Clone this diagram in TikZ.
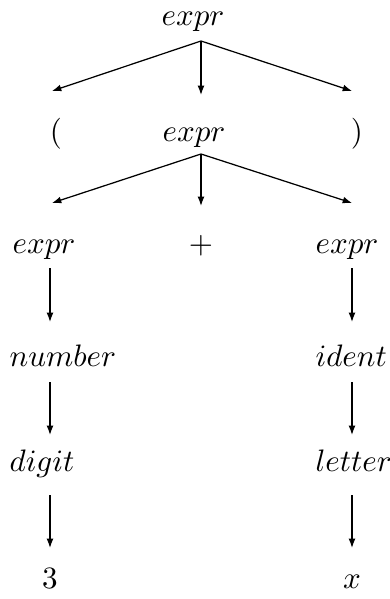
\documentclass[tikz,border=0pt]{standalone}
\usetikzlibrary{arrows.meta}
\begin{document}
\begin{tikzpicture}[x=0.322pt,y=-0.322pt,
  every node/.style={font=\fontsize{10}{12}\selectfont},
  lab/.style={inner sep=0pt,anchor=base west},
  labc/.style={inner sep=0pt,anchor=base},
  arr/.style={line width=0.4pt,-{Latex[length=3pt,width=2.2pt]}}]
\useasboundingbox (0,0) rectangle (390,599);
% row 0
\node[lab] (e0) at (161,26) {$expr$};
% row 1
\node[labc] (lp) at (56,141) {$($};
\node[lab] (e1) at (162,141) {$expr$};
\node[labc] (rp) at (357,141) {$)$};
% row 2
\node[lab] (e2l) at (12,253) {$expr$};
\node[labc] (plus) at (201,253) {$+$};
\node[lab] (e2r) at (315,253) {$expr$};
% row 3
\node[lab] (num) at (9,366) {$number$};
\node[lab] (idt) at (315,366) {$ident$};
% row 4
\node[lab] (dig) at (9,471) {$digit$};
\node[lab] (let) at (315,471) {$letter$};
% row 5
\node[labc] (three) at (50,588) {$3$};
\node[labc] (xx) at (352,588) {$x$};
% connector end points
\coordinate (s0) at (201,41);
\coordinate (t0l) at (52,91);
\coordinate (t0m) at (201,95);
\coordinate (t0r) at (352,91);
\coordinate (s1) at (201,154);
\coordinate (t1l) at (52,203);
\coordinate (t1m) at (201,206);
\coordinate (t1r) at (352,203);
\coordinate (a1) at (50,268);  \coordinate (b1) at (50,322);
\coordinate (a2) at (50,382);  \coordinate (b2) at (50,435);
\coordinate (a3) at (50,495);  \coordinate (b3) at (50,548);
\coordinate (c1) at (352,268); \coordinate (d1) at (352,322);
\coordinate (c2) at (352,382); \coordinate (d2) at (352,435);
\coordinate (c3) at (352,495); \coordinate (d3) at (352,548);
\draw[arr] (s0) -- (t0l);
\draw[arr] (s0) -- (t0m);
\draw[arr] (s0) -- (t0r);
\draw[arr] (s1) -- (t1l);
\draw[arr] (s1) -- (t1m);
\draw[arr] (s1) -- (t1r);
\draw[arr] (a1) -- (b1);
\draw[arr] (a2) -- (b2);
\draw[arr] (a3) -- (b3);
\draw[arr] (c1) -- (d1);
\draw[arr] (c2) -- (d2);
\draw[arr] (c3) -- (d3);
\end{tikzpicture}
\end{document}
